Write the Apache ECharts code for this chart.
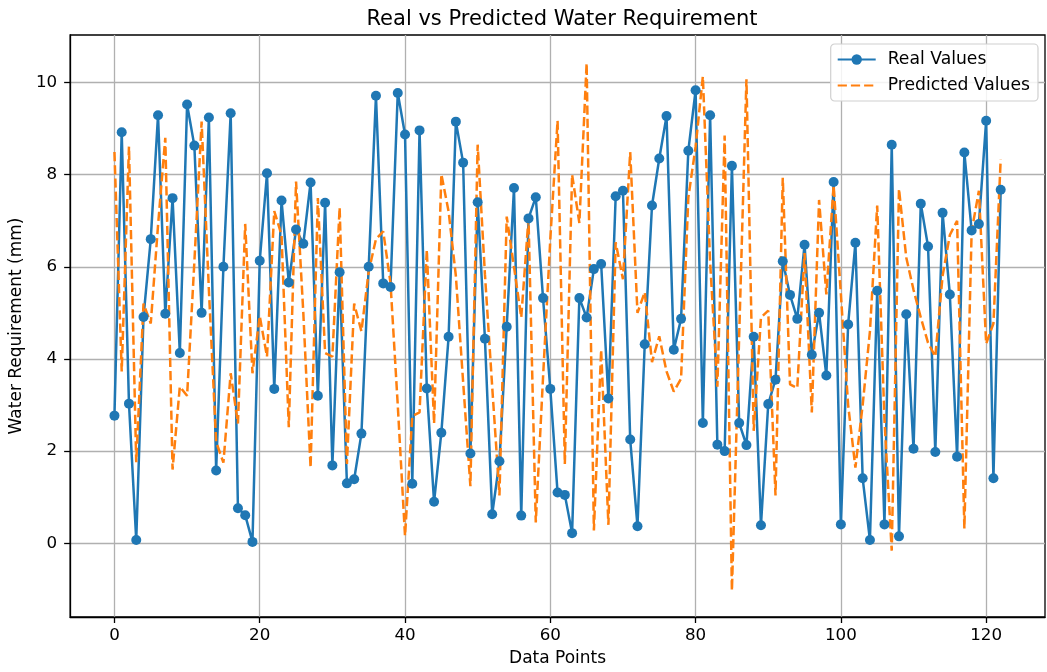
<!DOCTYPE html>
<html>
<head>
<meta charset="utf-8">
<script src="https://cdn.jsdelivr.net/npm/echarts@6/dist/echarts.min.js"></script>
<style>
html,body{margin:0;padding:0;background:#fff;}
#chart{width:1047px;height:672px;}
</style>
</head>
<body>
<div id="chart"></div>
<script>
// ---- data ----
const realValues = [
  2.77, 8.92, 3.03, 0.07, 4.91, 6.60, 9.29, 4.98, 7.49, 4.13,
  9.52, 8.63, 5.00, 9.24, 1.58, 6.00, 9.33, 0.76, 0.61, 0.03,
  6.13, 8.03, 3.35, 7.44, 5.66, 6.81, 6.50, 7.83, 3.20, 7.39,
  1.69, 5.88, 1.30, 1.39, 2.38, 6.00, 9.71, 5.64, 5.56, 9.77,
  8.87, 1.29, 8.96, 3.36, 0.90, 2.40, 4.48, 9.15, 8.26, 1.95,
  7.40, 4.44, 0.63, 1.78, 4.70, 7.71, 0.60, 7.05, 7.51, 5.32,
  3.35, 1.10, 1.05, 0.22, 5.32, 4.90, 5.95, 6.06, 3.14, 7.53,
  7.65, 2.25, 0.37, 4.32, 7.33, 8.35, 9.27, 4.20, 4.87, 8.52,
  9.83, 2.61, 9.29, 2.14, 2.00, 8.19, 2.61, 2.13, 4.48, 0.39,
  3.02, 3.55, 6.12, 5.39, 4.87, 6.48, 4.09, 5.00, 3.64, 7.84,
  0.41, 4.75, 6.52, 1.41, 0.07, 5.48, 0.41, 8.65, 0.15, 4.97,
  2.05, 7.37, 6.44, 1.98, 7.17, 5.40, 1.88, 8.48, 6.79, 6.93,
  9.17, 1.41, 7.67
];
const predictedValues = [
  8.49, 3.73, 8.61, 1.76, 5.20, 4.77, 6.90, 8.80, 1.60, 3.40,
  3.20, 6.10, 9.15, 5.50, 2.20, 1.75, 3.69, 2.60, 6.93, 3.69,
  4.93, 4.05, 7.21, 6.69, 2.52, 7.85, 5.00, 1.64, 7.49, 4.13,
  4.05, 7.29, 1.72, 5.20, 4.60, 5.90, 6.60, 6.77, 5.65, 3.00,
  0.16, 2.76, 2.84, 6.37, 2.60, 8.01, 7.20, 5.80, 3.50, 1.24,
  8.65, 5.84, 3.40, 1.04, 7.09, 6.00, 4.90, 7.05, 0.45, 3.60,
  6.60, 9.17, 1.72, 8.00, 6.95, 10.42, 0.28, 4.20, 0.40, 6.53,
  5.73, 8.49, 5.00, 5.45, 3.93, 4.49, 3.73, 3.29, 3.57, 7.50,
  8.60, 10.13, 6.10, 3.40, 8.85, -1.03, 4.50, 10.07, 2.44, 4.90,
  5.05, 1.04, 7.93, 3.45, 3.37, 6.30, 2.84, 7.45, 5.40, 7.77,
  5.40, 3.00, 1.64, 3.00, 4.60, 7.33, 2.68, -0.16, 7.69, 6.20,
  5.50, 4.90, 4.35, 4.05, 5.80, 6.69, 7.00, 0.32, 6.77, 7.65,
  4.33, 4.77, 8.33
];
const xTicks = [0, 20, 40, 60, 80, 100, 120];
const yTicks = [0, 2, 4, 6, 8, 10];
const seriesNames = ['Real Values', 'Predicted Values'];
const titleText = 'Real vs Predicted Water Requirement';
const xName = 'Data Points';
const yName = 'Water Requirement (mm)';

// ---- build ----
const realData = realValues.map((v, i) => [i, v]);
const predData = predictedValues.map((v, i) => [i, v]);
const FONT = 'DejaVu Sans';

const chart = echarts.init(document.getElementById('chart'), null, {renderer: 'canvas'});
chart.setOption({
  animation: false,
  backgroundColor: '#ffffff',
  title: {
    text: titleText,
    left: 557, top: 4, textAlign: 'center',
    textStyle: {fontFamily: FONT, fontSize: 21, fontWeight: 'normal', color: '#000'}
  },
  grid: {
    left: 69, right: 2, top: 35, bottom: 54,
    show: true, borderColor: '#000', borderWidth: 1.3, backgroundColor: 'transparent'
  },
  legend: {
    orient: 'vertical', right: 9, top: 44,
    itemWidth: 38, itemHeight: 13, itemGap: 9,
    padding: [7, 8, 7, 6],
    backgroundColor: 'rgba(255,255,255,0.85)',
    borderColor: '#d0d0d0', borderWidth: 1.2, borderRadius: 4,
    textStyle: {fontFamily: FONT, fontSize: 17.2, color: '#000', padding: [0, 0, 0, 7]},
    data: [
      {name: seriesNames[0]},
      {name: seriesNames[1], itemStyle: {opacity: 0, borderWidth: 0}}
    ]
  },
  xAxis: {
    type: 'value', min: -6.1, max: 128.1, splitNumber: 7,
    name: xName, nameLocation: 'middle', nameGap: 33,
    nameTextStyle: {fontFamily: FONT, fontSize: 17, color: '#000'},
    axisLine: {show: true, onZero: false, lineStyle: {color: '#000', width: 1.3}},
    axisTick: {show: true, length: 6, customValues: xTicks, lineStyle: {color: '#000', width: 1.3}},
    axisLabel: {customValues: xTicks, margin: 10, fontFamily: FONT, fontSize: 16.7, color: '#000'},
    splitLine: {show: true, lineStyle: {color: '#b0b0b0', width: 1.3}}
  },
  yAxis: {
    type: 'value', min: -1.6, max: 11.03, splitNumber: 6,
    name: yName, nameLocation: 'middle', nameGap: 42, nameRotate: 90,
    nameTextStyle: {fontFamily: FONT, fontSize: 17, color: '#000'},
    axisLine: {show: true, onZero: false, lineStyle: {color: '#000', width: 1.3}},
    axisTick: {show: true, length: 6, customValues: yTicks, lineStyle: {color: '#000', width: 1.3}},
    axisLabel: {customValues: yTicks, margin: 13, fontFamily: FONT, fontSize: 16.7, color: '#000'},
    splitLine: {show: true, lineStyle: {color: '#b0b0b0', width: 1.3}}
  },
  series: [
    {
      name: seriesNames[0], type: 'line', data: realData,
      symbol: 'circle', symbolSize: 10, showAllSymbol: true,
      itemStyle: {color: '#1f77b4'},
      lineStyle: {color: '#1f77b4', width: 2.5},
      emphasis: {disabled: true}
    },
    {
      name: seriesNames[1], type: 'line', data: predData,
      symbol: 'none',
      itemStyle: {color: '#ff7f0e'},
      lineStyle: {color: '#ff7f0e', width: 2.5, type: [9.2, 4]},
      emphasis: {disabled: true}
    }
  ]
});
</script>
</body>
</html>
